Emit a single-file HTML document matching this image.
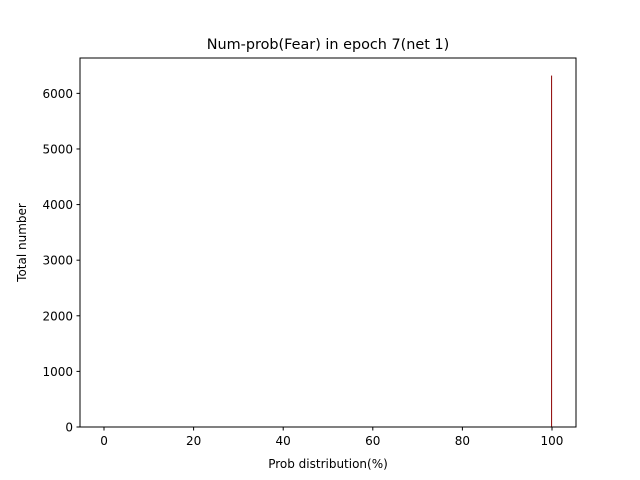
<!DOCTYPE html>
<html><head><meta charset="utf-8"><style>
html,body{margin:0;padding:0;background:#fff;}
svg{display:block;font-family:"DejaVu Sans","Liberation Sans",sans-serif;}
</style></head><body>
<svg id="chart" width="640" height="480" xmlns="http://www.w3.org/2000/svg">
<rect width="640" height="480" fill="#fff"/>
<text x="328" y="49" text-anchor="middle" font-size="14.4">Num-prob(Fear) in epoch 7(net 1)</text>
<g id="bars"></g>
<g id="xticks"></g>
<g id="yticks"></g>
<rect x="80" y="58" width="496" height="369" fill="none" stroke="#000" stroke-width="1"/>
<text x="328" y="468" text-anchor="middle" font-size="12">Prob distribution(%)</text>
<text transform="translate(26,242.5) rotate(-90)" text-anchor="middle" font-size="12">Total number</text>
</svg>
<script>
const binStarts = [99.8];
const binEnds = [100];
const counts = [6320];
const xTicks = [0, 20, 40, 60, 80, 100];
const yTicks = [0, 1000, 2000, 3000, 4000, 5000, 6000];

const NS = "http://www.w3.org/2000/svg";
const L = 80, R = 576, T = 58, B = 427;
const xMin = -5.36, xMax = 105.36;
const yMax = Math.max(...counts) * 1.05;
const xs = v => L + (v - xMin) / (xMax - xMin) * (R - L);
const ys = v => B - v / yMax * (B - T);

const bars = document.getElementById('bars');
counts.forEach((c, i) => {
  const r = document.createElementNS(NS, 'rect');
  const x0 = xs(binStarts[i]), x1 = xs(binEnds[i]);
  r.setAttribute('x', x0);
  r.setAttribute('width', Math.max(1, x1 - x0));
  r.setAttribute('y', ys(c));
  r.setAttribute('height', B - ys(c));
  r.setAttribute('fill', '#8b0000');
  
  
  bars.appendChild(r);
});

const xg = document.getElementById('xticks');
xTicks.forEach(t => {
  const x = xs(t);
  const l = document.createElementNS(NS, 'line');
  l.setAttribute('x1', x); l.setAttribute('x2', x);
  l.setAttribute('y1', B); l.setAttribute('y2', B + 3.5);
  l.setAttribute('stroke', '#000');
  
  
  xg.appendChild(l);
  const tx = document.createElementNS(NS, 'text');
  tx.setAttribute('x', x); tx.setAttribute('y', B + 18);
  tx.setAttribute('text-anchor', 'middle'); tx.setAttribute('font-size', '12');
  tx.textContent = t;
  
  
  xg.appendChild(tx);
});

const yg = document.getElementById('yticks');
yTicks.forEach(t => {
  const y = ys(t);
  const l = document.createElementNS(NS, 'line');
  l.setAttribute('x1', L - 3.5); l.setAttribute('x2', L);
  l.setAttribute('y1', y); l.setAttribute('y2', y);
  l.setAttribute('stroke', '#000');
  
  
  yg.appendChild(l);
  const tx = document.createElementNS(NS, 'text');
  tx.setAttribute('x', L - 7); tx.setAttribute('y', y + 4.5);
  tx.setAttribute('text-anchor', 'end'); tx.setAttribute('font-size', '12');
  tx.textContent = t;
  
  
  yg.appendChild(tx);
});
</script>
</body></html>
